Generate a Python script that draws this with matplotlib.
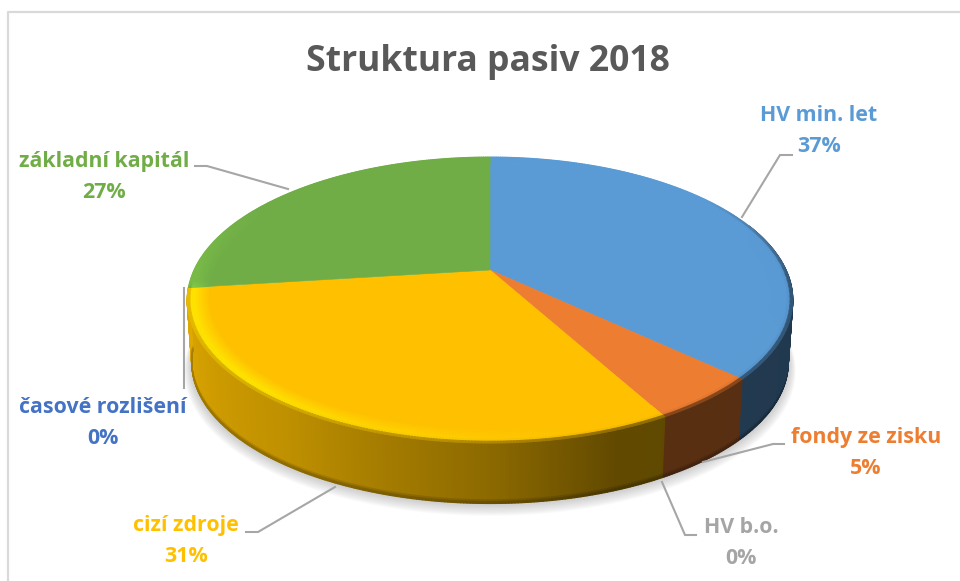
import numpy as np
import matplotlib
matplotlib.use('Agg')
import matplotlib.pyplot as plt
from matplotlib.collections import PolyCollection
from matplotlib.colors import to_rgb

title = 'Struktura pasiv 2018'
names = ['HV min. let', 'fondy ze zisku', 'HV b.o.', 'cizí zdroje', 'časové rozlišení', 'základní kapitál']
values = [37, 5, 0, 31, 0, 27]
colors = ['#5B9BD5', '#ED7D31', '#A5A5A5', '#FFC000', '#4472C4', '#70AD47']

# label centres and leader lines, in pixels of the picture
label_pos = [(819, 131), (866, 453), (741, 543), (186, 541), (103, 423), (104, 177)]
leaders = [
    [(742, 217), (780, 155), (792, 155)],
    [(703, 462), (773, 444), (784, 444)],
    [(662, 482), (685, 535), (696, 535)],
    [(335, 487), (258, 532), (246, 532)],
    [(184, 288), (184, 388)],
    [(288, 189), (207, 166), (195, 166)],
]

# perspective of the disc
cx, cy = 490, 270
b, a, k = 296, 136.7, 0.21
drop, shrink = 63, 0.015
r0 = 0.93


def project(theta, r=1.0, depth=0.0, grow=0.0):
    u = r * np.sin(theta) * (1 + grow)
    v = r * np.cos(theta) * (1 + grow)
    d = 1 + k * v
    s = 1 - depth * shrink
    return np.column_stack([cx + s * b * u / d, cy + depth * drop - s * a * v / d])


def wall_shade(deg):
    return np.interp(deg, [90, 160, 180, 215, 262, 280], [.36, .38, .55, .75, .88, .88])


def highlight(deg):
    return np.interp(deg, [165, 225, 262, 266, 300], [0, 1, 1, 0.4, 0])


def edge_dark(deg):
    return np.interp(deg, [55, 95, 262, 266], [0, 1, 1, 0])


def bevel_color(base, deg, s):
    base = np.array(base)
    lift = np.clip(base * (1 + 0.2 * highlight(deg) * min(s / .8, 1)), 0, 1)
    lift[2] = base[2]
    if s < .8:
        return lift
    w = edge_dark(deg) * (s - .8) / .2
    return lift * (1 - w) + base * wall_shade(deg) * w


fig = plt.figure(figsize=(9.6, 5.81), dpi=100)
ax = fig.add_axes([0, 0, 1, 1])
ax.set_xlim(0, 960)
ax.set_ylim(581, 0)
ax.axis('off')

# frame
ax.plot([8, 8, 960], [581, 12, 12], color='#D9D9D9', lw=1.6, zorder=1)

# soft shadow under the disc
ring = np.radians(np.linspace(0, 360, 361))
for i in range(12):
    e = 0.002 * (12 - i)
    pts = project(ring, 1.0, 1.0, e) + [0, 0.6 * (12 - i)]
    ax.fill(pts[:, 0], pts[:, 1], color='#808080', alpha=0.035, lw=0, zorder=2)

# slice angles, clockwise from the top
edges = np.cumsum([0] + values) * 3.6

wall_polys, wall_cols = [], []
bevel_polys, bevel_cols = [], []
steps = [0, .94, .97, 1]
step_shade = [1, .88, .75]
for val, col, a0, a1 in zip(values, colors, edges[:-1], edges[1:]):
    if val == 0:
        continue
    base = to_rgb(col)
    deg = np.linspace(a0, a1, int((a1 - a0) * 2) + 2)
    th = np.radians(deg)

    # side wall, only the part that faces the viewer
    for j in range(len(deg) - 1):
        mid = (deg[j] + deg[j + 1]) / 2
        if mid < 70 or mid > 263:
            continue
        for t0, t1, g in zip(steps[:-1], steps[1:], step_shade):
            p = np.vstack([project(th[j:j + 2], 1, t0), project(th[j:j + 2][::-1], 1, t1)])
            wall_polys.append(p)
            wall_cols.append(np.array(base) * wall_shade(mid) * g)

    # flat top
    top = np.vstack([[[cx, cy]], project(th, r0)])
    ax.fill(top[:, 0], top[:, 1], color=col, lw=0.4, zorder=5)

    # rounded rim
    rs = np.linspace(r0, 1, 9)
    for j in range(len(deg) - 1):
        mid = (deg[j] + deg[j + 1]) / 2
        for q, (r1, r2) in enumerate(zip(rs[:-1], rs[1:])):
            p = np.vstack([project(th[j:j + 2], r1), project(th[j:j + 2][::-1], r2)])
            bevel_polys.append(p)
            bevel_cols.append(bevel_color(base, mid, (q + .5) / 8))

ax.add_collection(PolyCollection(wall_polys, facecolors=wall_cols, edgecolors=wall_cols, linewidths=0.9, zorder=3))
ax.add_collection(PolyCollection(bevel_polys, facecolors=bevel_cols, edgecolors=bevel_cols, linewidths=0.7, zorder=4))

# leader lines
for line in leaders:
    xs, ys = zip(*line)
    ax.plot(xs, ys, color='#A6A6A6', lw=1.5, zorder=6, solid_joinstyle='miter')

# texts
ax.text(488, 62, title, ha='center', va='center', fontsize=25.6, fontweight='bold',
        family='Open Sans', color='#595959', zorder=7)
for name, val, col, (x, y) in zip(names, values, colors, label_pos):
    ax.text(x, y, f'{name}\n{val}%', ha='center', va='center', fontsize=15.4, fontweight='bold',
            family='Open Sans', color=col, linespacing=1.68, zorder=7)

fig.savefig('out.png', dpi=100)
